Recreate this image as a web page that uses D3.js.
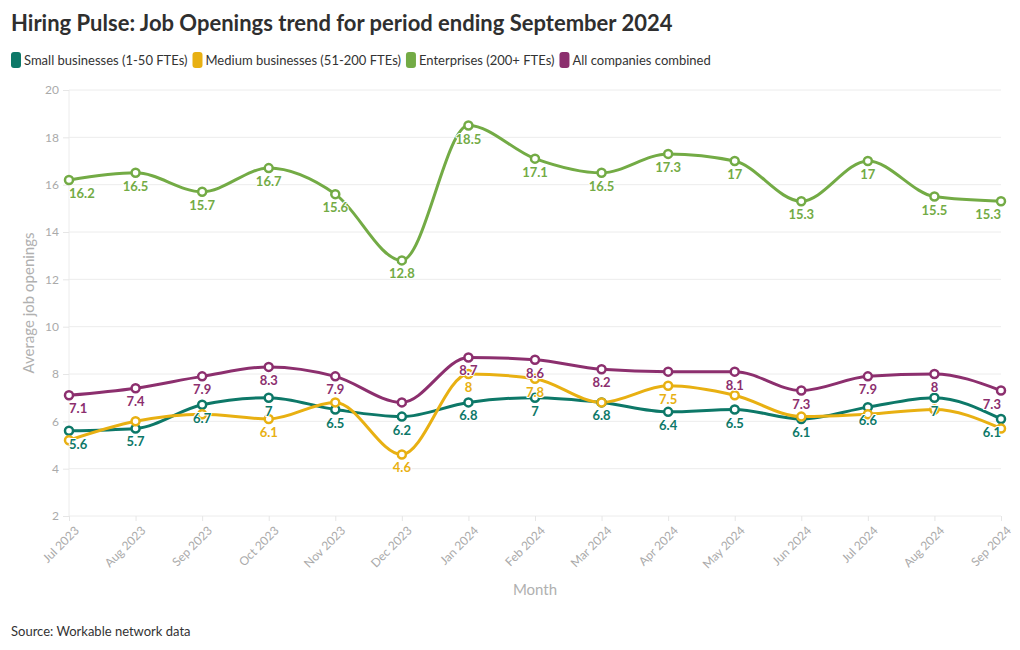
<!DOCTYPE html>
<html>
<head>
<meta charset="utf-8">
<script src="https://cdn.jsdelivr.net/npm/d3@7"></script>
<style>
  html, body { margin: 0; padding: 0; background: #fff; }
  svg { display: block; font-family: "Lato", "Noto Sans", sans-serif; }
</style>
</head>
<body>
<svg id="chart" width="1020" height="650"></svg>
<script>
const months = ["Jul 2023","Aug 2023","Sep 2023","Oct 2023","Nov 2023","Dec 2023","Jan 2024","Feb 2024","Mar 2024","Apr 2024","May 2024","Jun 2024","Jul 2024","Aug 2024","Sep 2024"];
const smallValues      = [5.6, 5.7, 6.7, 7.0, 6.5, 6.2, 6.8, 7.0, 6.8, 6.4, 6.5, 6.1, 6.6, 7.0, 6.1];
const mediumValues     = [5.2, 6.0, 6.3, 6.1, 6.8, 4.6, 8.0, 7.8, 6.8, 7.5, 7.1, 6.2, 6.3, 6.5, 5.7];
const enterpriseValues = [16.2, 16.5, 15.7, 16.7, 15.6, 12.8, 18.5, 17.1, 16.5, 17.3, 17.0, 15.3, 17.0, 15.5, 15.3];
const allValues        = [7.1, 7.4, 7.9, 8.3, 7.9, 6.8, 8.7, 8.6, 8.2, 8.1, 8.1, 7.3, 7.9, 8.0, 7.3];
// which value labels are visible (others were hidden by label collision in the original)
const smallShow      = [1,1,1,1,1,1,1,1,1,1,1,1,1,1,1];
const mediumShow     = [0,0,0,1,0,1,1,1,0,1,0,0,0,0,0];
const enterpriseShow = [1,1,1,1,1,1,1,1,1,1,1,1,1,1,1];
const allShow        = [1,1,1,1,1,0,1,1,1,0,1,1,1,1,1];
const seriesNames  = ["Small businesses (1-50 FTEs)", "Medium businesses (51-200 FTEs)", "Enterprises (200+ FTEs)", "All companies combined"];
const seriesColors = ["#0d7868", "#e8b012", "#73ab45", "#8c2f6e"];
const yTicks = [2, 4, 6, 8, 10, 12, 14, 16, 18, 20];

const series = [
  {name: seriesNames[0], color: seriesColors[0], values: smallValues, show: smallShow},
  {name: seriesNames[1], color: seriesColors[1], values: mediumValues, show: mediumShow},
  {name: seriesNames[2], color: seriesColors[2], values: enterpriseValues, show: enterpriseShow},
  {name: seriesNames[3], color: seriesColors[3], values: allValues, show: allShow}
];

const svg = d3.select("#chart");
const pLeft = 69, pRight = 1001, pTop = 90, pBottom = 516;

const x = d3.scalePoint().domain(months).range([pLeft, pRight]);
const y = d3.scaleLinear().domain([2, 20]).range([pBottom, pTop]);

// Title
svg.append("text").attr("x", 11).attr("y", 31)
  .attr("font-size", 22).attr("font-weight", 700).attr("fill", "#2f2f2f")
  .text("Hiring Pulse: Job Openings trend for period ending September 2024");

// Legend
let lx = 11;
const legend = svg.append("g");
series.forEach(s => {
  const g = legend.append("g").attr("transform", `translate(${lx},0)`);
  g.append("rect").attr("x", 0).attr("y", 52).attr("width", 10).attr("height", 16).attr("rx", 3).attr("fill", s.color);
  const t = g.append("text").attr("x", 13).attr("y", 65).attr("font-size", 13).attr("fill", "#333").text(s.name);
  lx += 13 + t.node().getComputedTextLength() + 5;
});

// Grid
const grid = svg.append("g");
grid.selectAll("line.h").data(yTicks).join("line")
  .attr("x1", pLeft).attr("x2", pRight)
  .attr("y1", d => y(d)).attr("y2", d => y(d))
  .attr("stroke", "#ececec").attr("stroke-width", 1);
grid.append("line").attr("x1", pLeft).attr("x2", pLeft).attr("y1", pTop).attr("y2", pBottom)
  .attr("stroke", "#ececec");

// Y axis
const yAxis = svg.append("g").attr("transform", `translate(${pLeft},0)`)
  .call(d3.axisLeft(y).tickValues(yTicks).tickSize(6).tickPadding(4).tickFormat(d3.format("d")));
yAxis.select(".domain").remove();
yAxis.selectAll(".tick line").attr("stroke", "#e6e6e6");
yAxis.selectAll(".tick text").attr("fill", "#aaa").attr("font-size", 12).attr("font-family", "Lato, sans-serif");

// X axis
const xAxis = svg.append("g").attr("transform", `translate(0,${pBottom})`)
  .call(d3.axisBottom(x).tickSize(5).tickPadding(4));
xAxis.select(".domain").remove();
xAxis.selectAll(".tick line").attr("stroke", "#e6e6e6");
xAxis.selectAll(".tick text")
  .attr("fill", "#aaa").attr("font-size", 12).attr("font-family", "Lato, sans-serif")
  .attr("text-anchor", "end").attr("dx", "0").attr("dy", "0")
  .attr("transform", "translate(4,9) rotate(-45)");

// Axis titles
svg.append("text").attr("transform", `translate(34,${(pTop + pBottom) / 2}) rotate(-90)`)
  .attr("text-anchor", "middle").attr("font-size", 15).attr("fill", "#b0b0b0")
  .text("Average job openings");
svg.append("text").attr("x", (pLeft + pRight) / 2).attr("y", 595)
  .attr("text-anchor", "middle").attr("font-size", 15).attr("fill", "#b0b0b0")
  .text("Month");

// Source
svg.append("text").attr("x", 11).attr("y", 636).attr("font-size", 13).attr("fill", "#333")
  .text("Source: Workable network data");

// Lines
const line = d3.line().x((d, i) => x(months[i])).y(d => y(d)).curve(d3.curveMonotoneX);
const linesG = svg.append("g");
series.forEach(s => {
  linesG.append("path").datum(s.values).attr("d", line)
    .attr("fill", "none").attr("stroke", s.color).attr("stroke-width", 3)
    .attr("stroke-linejoin", "round").attr("stroke-linecap", "round");
});
// Markers
const markersG = svg.append("g");
series.forEach(s => {
  markersG.selectAll(null).data(s.values).join("circle")
    .attr("cx", (d, i) => x(months[i])).attr("cy", d => y(d)).attr("r", 4)
    .attr("fill", "#fff").attr("stroke", s.color).attr("stroke-width", 2.5);
});
// Labels
const labelsG = svg.append("g");
const fmt = v => (Math.round(v * 10) / 10).toString();
series.forEach(s => {
  s.values.forEach((v, i) => {
    if (!s.show[i]) return;
    const t = labelsG.append("text")
      .attr("x", x(months[i])).attr("y", y(v) + 18)
      .attr("text-anchor", "middle").attr("font-size", 13).attr("font-weight", 700)
      .attr("fill", s.color).attr("stroke", "#fff").attr("stroke-width", 2)
      .attr("paint-order", "stroke").attr("stroke-linejoin", "round")
      .text(fmt(v));
    const w = t.node().getComputedTextLength();
    const cx = x(months[i]);
    if (cx - w / 2 < pLeft) t.attr("text-anchor", "start").attr("x", pLeft);
    if (cx + w / 2 > pRight) t.attr("text-anchor", "end").attr("x", pRight);
  });
});
</script>
</body>
</html>
